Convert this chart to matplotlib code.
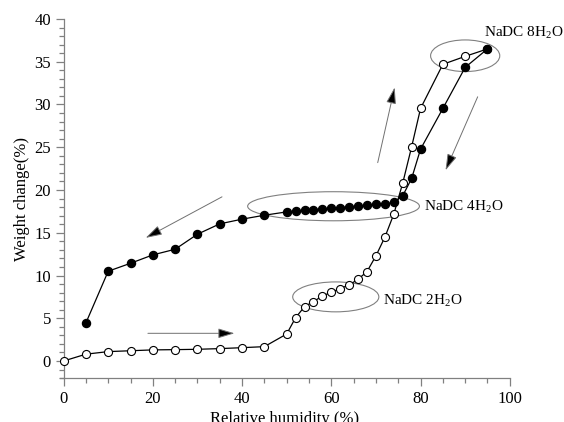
import numpy as np
import matplotlib.pyplot as plt
from matplotlib.patches import Ellipse

plt.rcParams['font.family'] = ['Liberation Serif', 'DejaVu Serif']
plt.rcParams['mathtext.fontset'] = 'custom'
plt.rcParams['mathtext.rm'] = 'Liberation Serif'

# adsorption (open circles)
rh_ads = [0, 5, 10, 15, 20, 25, 30, 35, 40, 45, 50, 52, 54, 56, 58, 60, 62, 64,
          66, 68, 70, 72, 74, 76, 78, 80, 85, 90, 95]
wc_ads = [0.0, 0.8, 1.1, 1.2, 1.3, 1.33, 1.37, 1.45, 1.56, 1.68, 3.16, 5.07, 6.36,
          6.95, 7.6, 8.04, 8.47, 8.9, 9.56, 10.46, 12.3, 14.48, 17.17, 20.8, 25.05,
          29.54, 34.7, 35.63, 36.5]

# desorption (filled circles)
rh_des = [95, 90, 85, 80, 78, 76, 74, 72, 70, 68, 66, 64, 62, 60, 58, 56, 54, 52,
          50, 45, 40, 35, 30, 25, 20, 15, 10, 5]
wc_des = [36.5, 34.34, 29.54, 24.78, 21.35, 19.32, 18.54, 18.38, 18.34, 18.19, 18.1,
          18.03, 17.95, 17.87, 17.8, 17.68, 17.64, 17.52, 17.44, 17.05, 16.59, 16.04,
          14.83, 13.07, 12.41, 11.43, 10.5, 4.45]

# hydrate regions: (x centre, y centre, width, height, label, label x, label y)
hydrates = [
    (90.0, 35.7, 15.5, 3.7, 'NaDC 8H$_2$O', 94.2, 38.4),
    (60.5, 18.1, 38.5, 3.4, 'NaDC 4H$_2$O', 80.8, 18.0),
    (61.0, 7.5, 19.3, 3.5, 'NaDC 2H$_2$O', 71.5, 7.1),
]

# direction arrows (start -> tip)
arrows = [
    ((18.9, 3.24), (38.3, 3.24)),
    ((35.5, 19.2), (18.4, 14.4)),
    ((70.4, 23.2), (74.2, 32.0)),
    ((92.8, 30.9), (85.6, 22.3)),
]

fig = plt.figure(figsize=(5.64, 4.22), dpi=100)
ax = fig.add_axes([0.1064, 0.104, 0.7975, 0.851])

ax.plot(rh_ads, wc_ads, '-o', color='black', lw=0.9, ms=5.8, mfc='white',
        mec='black', mew=0.8, zorder=3)
ax.plot(rh_des, wc_des, '-o', color='black', lw=0.9, ms=5.8, mfc='black',
        mec='black', zorder=4)

for xc, yc, w, h, txt, tx, ty in hydrates:
    ax.add_patch(Ellipse((xc, yc), w, h, fill=False, ec='#808080', lw=0.8, zorder=2))
    ax.text(tx, ty, txt, fontsize=11, va='center', ha='left', clip_on=False)

for start, tip in arrows:
    ax.annotate('', xy=tip, xytext=start,
                arrowprops=dict(arrowstyle='-|>,head_length=1.0,head_width=0.3',
                                mutation_scale=10, ec='#707070', fc='black', lw=0.7,
                                shrinkA=0, shrinkB=0))

ax.set_xlim(-0.8, 100)
ax.set_ylim(-2, 40)
ax.set_xticks(np.arange(0, 101, 20))
ax.set_xticks(np.arange(0, 101, 5), minor=True)
ax.set_yticks(np.arange(0, 41, 5))
ax.set_yticks(np.arange(-2, 41, 1), minor=True)

ax.spines['top'].set_visible(False)
ax.spines['right'].set_visible(False)
ax.spines['left'].set_position(('data', 0))
for s in ['left', 'bottom']:
    ax.spines[s].set_color('#808080')
    ax.spines[s].set_linewidth(0.9)

ax.tick_params(which='major', length=6, width=0.9, color='#808080',
               labelsize=12, pad=3)
ax.tick_params(which='minor', length=3.5, width=0.9, color='#808080')

ax.set_xlabel('Relative humidity (%)', fontsize=12, labelpad=3)
ax.set_ylabel('Weight change(%)', fontsize=12, labelpad=3)

fig.savefig('out.png', dpi=100)
